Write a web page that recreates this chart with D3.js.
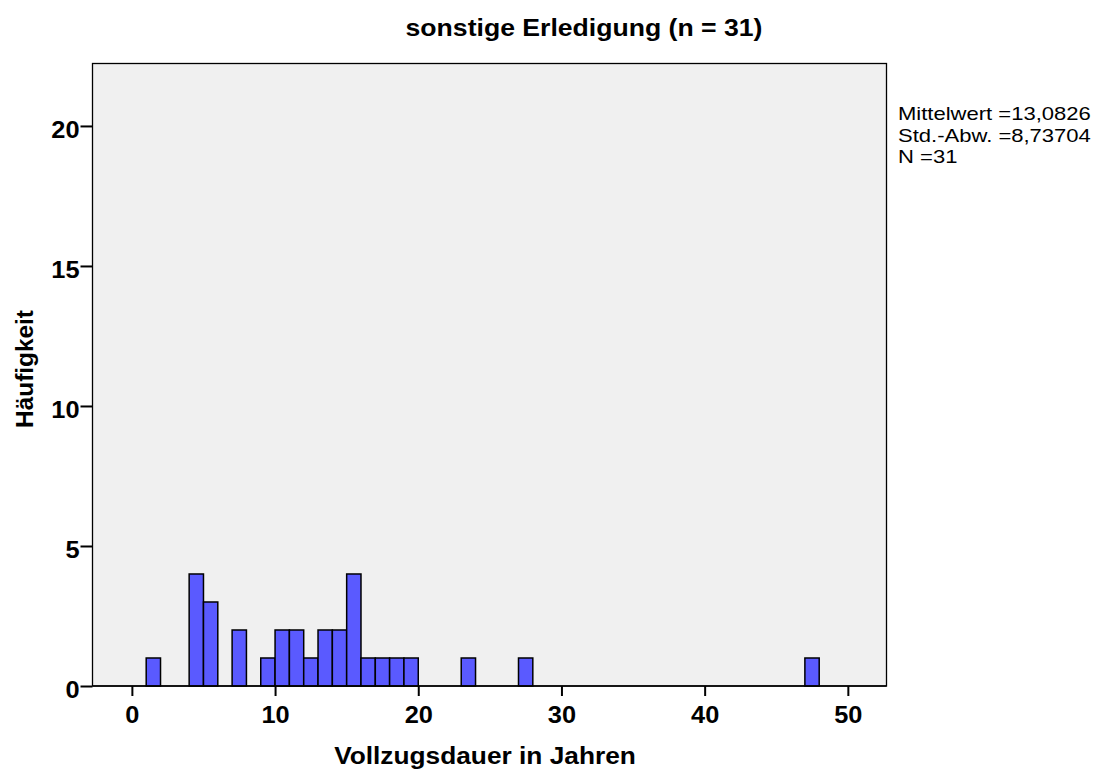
<!DOCTYPE html>
<html><head><meta charset="utf-8">
<script src="https://cdn.jsdelivr.net/npm/d3@7"></script>
<style>body{margin:0;background:#fff;} text{font-family:"Liberation Sans",Arial,sans-serif;}</style>
</head><body>
<svg id="c" width="1102" height="776"></svg>
<script>
const binStarts = [1,4,5,7,9,10,11,12,13,14,15,16,17,18,19,23,27,47];
const counts    = [1,4,3,2,1,2,2,1,2,2,4,1,1,1,1,1,1,1];
const xTicks = [0,10,20,30,40,50];
const yTicks = [0,5,10,15,20];
const statsLines = ["Mittelwert =13,0826","Std.-Abw. =8,73704","N =31"];
const title = "sonstige Erledigung (n = 31)";

const svg = d3.select("#c");
const L=92.5,R=886.5,T=63.5,B=686;
const x = d3.scaleLinear().domain([-2.75,52.7]).range([L,R]);
const y = d3.scaleLinear().domain([0,22.23]).range([B,T]);
const FF = "Liberation Sans, Arial, sans-serif";

svg.append("rect").attr("x",L).attr("y",T).attr("width",R-L).attr("height",B-T)
  .attr("fill","#f0f0f0").attr("stroke","#000").attr("stroke-width",1.3);

svg.selectAll("rect.bar").data(binStarts).enter().append("rect").attr("class","bar")
  .attr("x",d=>x(d)).attr("width",d=>x(d+1)-x(d))
  .attr("y",(d,i)=>y(counts[i])).attr("height",(d,i)=>y(0)-y(counts[i]))
  .attr("fill","#5a5aff").attr("stroke","#000").attr("stroke-width",1.5);

svg.append("line").attr("x1",L).attr("x2",R).attr("y1",B).attr("y2",B).attr("stroke","#000").attr("stroke-width",1.5);

const xa = svg.append("g").attr("transform",`translate(0,${B})`)
  .call(d3.axisBottom(x).tickValues(xTicks).tickSize(10).tickPadding(0).tickFormat(d3.format("d")));
xa.select(".domain").remove();
xa.selectAll("line").attr("stroke-width",2);
xa.selectAll("text").attr("font-size",23.5).attr("font-weight","bold").attr("fill","#000")
  .attr("font-family",FF).attr("dy",0).attr("y",0).attr("transform","translate(0,37) scale(1.08,1)");

const ya = svg.append("g").attr("transform",`translate(${L},0)`)
  .call(d3.axisLeft(y).tickValues(yTicks).tickSize(12).tickPadding(1).tickFormat(d3.format("d")));
ya.select(".domain").remove();
ya.selectAll("line").attr("stroke-width",2);
ya.selectAll("text").attr("font-size",23.5).attr("font-weight","bold").attr("fill","#000")
  .attr("font-family",FF).attr("x",0).attr("dy","0.5em").attr("transform","translate(-13,0) scale(1.08,1)");

function stretched(tx,ty,sx,sy){ return `translate(${tx},${ty}) scale(${sx},${sy})`; }

svg.append("text").attr("transform",stretched(584,36,1.157,1)).attr("text-anchor","middle")
  .attr("font-size",23).attr("font-weight","bold").text(title);
svg.append("text").attr("transform",stretched(485,764,1.143,1)).attr("text-anchor","middle")
  .attr("font-size",23).attr("font-weight","bold").text("Vollzugsdauer in Jahren");
svg.append("text").attr("transform","translate(33,369) rotate(-90) scale(1.06,1)").attr("text-anchor","middle")
  .attr("font-size",23).attr("font-weight","bold").text("Häufigkeit");

svg.selectAll("text.stat").data(statsLines).enter().append("text").attr("class","stat")
  .attr("transform",(d,i)=>stretched(898,120+i*21.5,1.16,1)).attr("font-size",19).text(d=>d);
</script>
</body></html>
